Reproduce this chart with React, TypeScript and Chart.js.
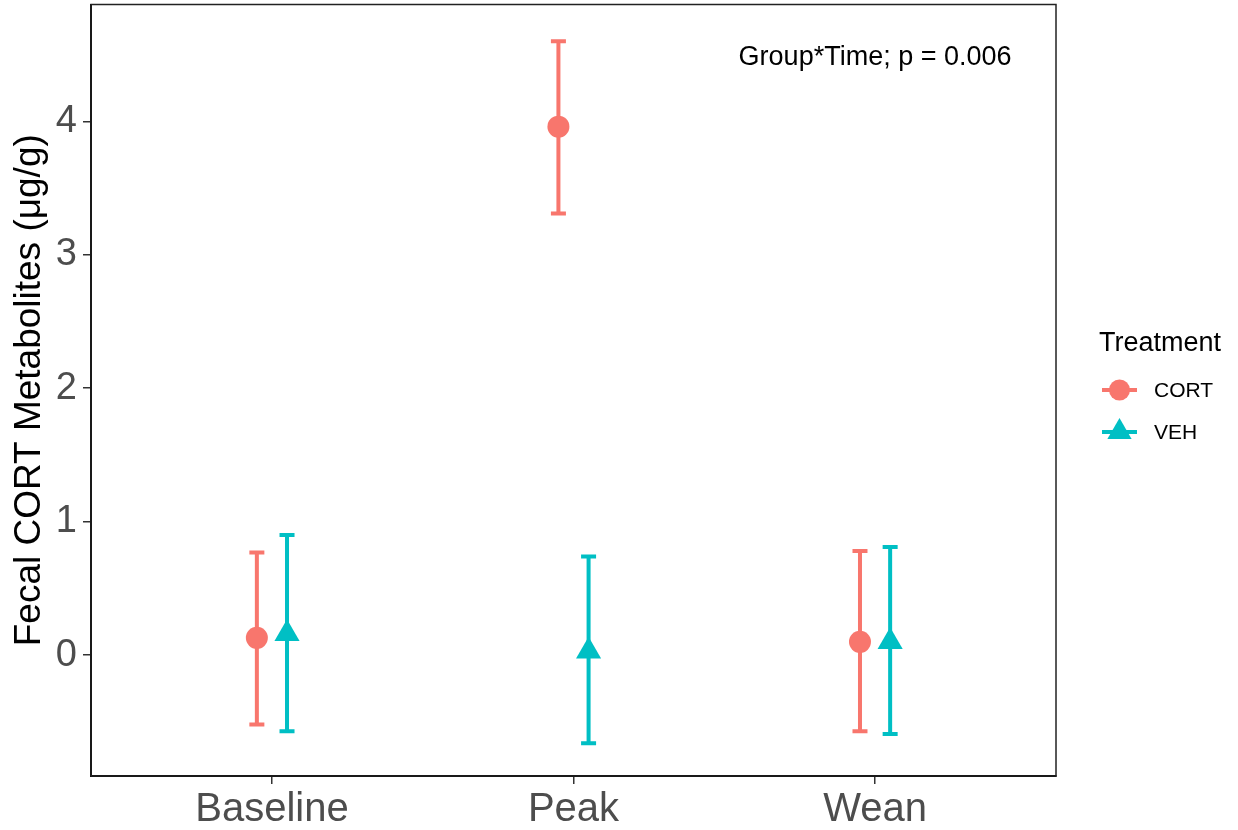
import React, { useEffect, useRef } from "react";
import { Chart, registerables } from "chart.js";

Chart.register(...registerables);

// ---- Data ----
const categories = ["Baseline", "Peak", "Wean"];
const seriesNames = ["CORT", "VEH"];
const cortMean = [0.13, 3.96, 0.1];
const cortLower = [-0.52, 3.31, -0.57];
const cortUpper = [0.77, 4.6, 0.78];
const vehMean = [0.16, 0.03, 0.1];
const vehLower = [-0.57, -0.66, -0.59];
const vehUpper = [0.9, 0.74, 0.81];
const yTickValues = [0, 1, 2, 3, 4];
const legendTitle = "Treatment";
const yAxisTitle = "Fecal CORT Metabolites (μg/g)";
const annotationText = "Group*Time; p = 0.006";
const annotationX = 3;
const annotationY = 4.48;

// ---- Style ----
const COLORS = ["#F8766D", "#00BFC4"];
const DODGE = 0.05;
const FONT = "'Liberation Sans', Arial, sans-serif";
const SHIFT = 10; // canvas is moved up by this many px

const lowers = [cortLower, vehLower];
const uppers = [cortUpper, vehUpper];
const means = [cortMean, vehMean];
const offsets = [-DODGE, DODGE];

const errorBarPlugin = {
  id: "errorBars",
  beforeDatasetsDraw(chart: any) {
    const { ctx, scales } = chart;
    const xs = scales.x;
    const ys = scales.y;
    ctx.save();
    for (let s = 0; s < 2; s++) {
      ctx.strokeStyle = COLORS[s];
      ctx.lineWidth = 4;
      ctx.lineCap = "butt";
      for (let i = 0; i < categories.length; i++) {
        const px = xs.getPixelForValue(i + 1 + offsets[s]);
        const pt = ys.getPixelForValue(uppers[s][i]);
        const pb = ys.getPixelForValue(lowers[s][i]);
        ctx.beginPath();
        ctx.moveTo(px, pt);
        ctx.lineTo(px, pb);
        ctx.moveTo(px - 7.5, pt);
        ctx.lineTo(px + 7.5, pt);
        ctx.moveTo(px - 7.5, pb);
        ctx.lineTo(px + 7.5, pb);
        ctx.stroke();
      }
    }
    ctx.restore();
  },
  afterDraw(chart: any) {
    const { ctx, scales, chartArea } = chart;
    ctx.save();
    // panel border
    ctx.strokeStyle = "#222";
    ctx.lineWidth = 1.5;
    ctx.strokeRect(chartArea.left, chartArea.top, chartArea.right - chartArea.left, chartArea.bottom - chartArea.top);
    // annotation
    ctx.fillStyle = "#000";
    ctx.font = `27px ${FONT}`;
    ctx.textAlign = "center";
    ctx.textBaseline = "middle";
    ctx.fillText(annotationText, scales.x.getPixelForValue(annotationX), scales.y.getPixelForValue(annotationY));
    // legend
    ctx.textAlign = "left";
    ctx.font = `27px ${FONT}`;
    ctx.fillText(legendTitle, 1099, 344 + SHIFT);
    const keyY = [390 + SHIFT, 432 + SHIFT];
    for (let s = 0; s < 2; s++) {
      const y = keyY[s];
      ctx.strokeStyle = COLORS[s];
      ctx.fillStyle = COLORS[s];
      ctx.lineWidth = 4;
      ctx.beginPath();
      ctx.moveTo(1102, y);
      ctx.lineTo(1137, y);
      ctx.stroke();
      ctx.beginPath();
      if (s === 0) {
        ctx.arc(1119.5, y, 10.5, 0, Math.PI * 2);
      } else {
        const r = 14;
        for (let k = 0; k < 3; k++) {
          const a = (k * 2 * Math.PI) / 3;
          const vx = 1119.5 + Math.sin(a) * r;
          const vy = y - Math.cos(a) * r;
          if (k === 0) ctx.moveTo(vx, vy);
          else ctx.lineTo(vx, vy);
        }
        ctx.closePath();
      }
      ctx.fill();
      ctx.fillStyle = "#000";
      ctx.font = `21px ${FONT}`;
      ctx.fillText(seriesNames[s], 1154, y + 1);
    }
    ctx.restore();
  },
};

export default function App() {
  const ref = useRef<HTMLCanvasElement | null>(null);
  useEffect(() => {
    if (!ref.current) return;
    const datasets = seriesNames.map((name, s) => ({
      label: name,
      data: categories.map((_, i) => ({ x: i + 1 + offsets[s], y: means[s][i] })),
      pointStyle: s === 0 ? "circle" : "triangle",
      pointRadius: s === 0 ? 11 : 14.5,
      pointHoverRadius: s === 0 ? 11 : 14.5,
      backgroundColor: COLORS[s],
      borderColor: COLORS[s],
      pointBorderWidth: 0,
      borderWidth: 0,
      showLine: false,
    }));
    const chart = new Chart(ref.current, {
      type: "scatter",
      data: { datasets },
      plugins: [errorBarPlugin],
      options: {
        animation: false,
        responsive: false,
        devicePixelRatio: 1,
        layout: { padding: { top: 5, right: 182, bottom: 0, left: 0 } },
        plugins: { legend: { display: false }, tooltip: { enabled: false } },
        scales: {
          x: {
            type: "linear",
            min: 0.4,
            max: 3.6,
            afterBuildTicks: (scale: any) => {
              scale.ticks = categories.map((_, i) => ({ value: i + 1 }));
            },
            afterFit: (scale: any) => {
              scale.height = 54;
              scale.paddingLeft = 0;
              scale.paddingRight = 0;
            },
            ticks: {
              autoSkip: false,
              maxRotation: 0,
              padding: 2,
              color: "#4D4D4D",
              font: { family: FONT, size: 40 },
              callback: (v: any) => categories[Math.round(v) - 1] ?? "",
            },
            grid: { drawOnChartArea: false, drawTicks: true, tickLength: 8, color: "#333", lineWidth: 1.5 },
            border: { display: true, color: "#000", width: 2 },
          },
          y: {
            type: "linear",
            min: -0.905,
            max: 4.875,
            afterBuildTicks: (scale: any) => {
              scale.ticks = yTickValues.map((v) => ({ value: v }));
            },
            afterFit: (scale: any) => {
              scale.width = 91;
              scale.paddingTop = 0;
              scale.paddingBottom = 0;
            },
            ticks: {
              padding: 6,
              color: "#4D4D4D",
              font: { family: FONT, size: 38 },
              callback: (v: any) => String(v),
            },
            title: {
              display: true,
              text: yAxisTitle,
              color: "#000",
              font: { family: FONT, size: 37 },
              padding: { top: 8, bottom: 0 },
            },
            grid: { drawOnChartArea: false, drawTicks: true, tickLength: 8, color: "#333", lineWidth: 1.5 },
            border: { display: true, color: "#000", width: 2 },
          },
        },
      },
    } as any);
    return () => chart.destroy();
  }, []);
  return (
    <div style={{ position: "absolute", left: 0, top: 0, width: 1238, height: 830, overflow: "hidden", background: "#fff" }}>
      <canvas
        ref={ref}
        width={1238}
        height={830 + SHIFT}
        style={{ display: "block", position: "absolute", left: 0, top: -SHIFT }}
      />
    </div>
  );
}
